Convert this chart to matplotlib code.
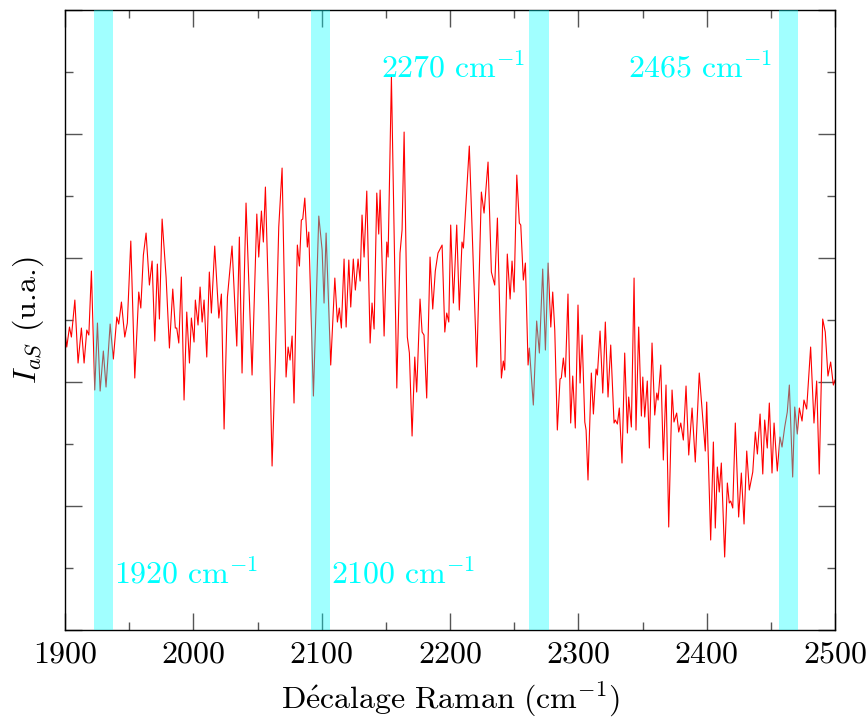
import numpy as np
import matplotlib
matplotlib.use("Agg")
import matplotlib.pyplot as plt
from matplotlib.ticker import MultipleLocator, NullFormatter

plt.rcParams["mathtext.fontset"] = "cm"
plt.rcParams["font.family"] = "serif"
plt.rcParams["font.serif"] = ["cmr10", "DejaVu Serif"]
plt.rcParams["axes.formatter.use_mathtext"] = True

# Spectre anti-Stokes
shift = [1900.0, 1901.3, 1903.4, 1904.9, 1907.6, 1910.1, 1912.7, 1914.8, 1916.9, 1918.5,
         1920.5, 1923.1, 1925.2, 1927.3, 1929.8, 1931.9, 1935.1, 1937.6, 1940.3, 1941.8,
         1943.9, 1946.5, 1948.5, 1951.2, 1954.3, 1957.4, 1959.0, 1961.0, 1963.1, 1965.7,
         1967.8, 1969.9, 1971.9, 1973.5, 1975.6, 1978.7, 1981.3, 1983.9, 1985.9, 1987.0,
         1988.6, 1990.6, 1992.7, 1994.8, 1996.9, 1998.4, 2000.5,
         2001.5, 2003.6, 2005.2, 2006.8, 2008.3, 2010.4, 2012.4, 2014.0, 2016.6, 2019.8,
         2021.8, 2023.9, 2026.5, 2030.1, 2033.8, 2035.8, 2037.9, 2041.0, 2045.7, 2049.4,
         2050.9, 2053.0, 2054.5, 2056.1, 2058.7, 2061.3, 2063.9, 2066.5, 2069.1, 2072.2,
         2073.8, 2075.3, 2076.9, 2078.4, 2081.0, 2082.6, 2084.1, 2085.2, 2086.8, 2088.8,
         2089.9, 2093.5, 2097.7, 2100.3,
         2101.8, 2103.4, 2107.0, 2110.2, 2112.2, 2113.7, 2115.3, 2117.4, 2119.0, 2121.1,
         2122.6, 2124.6, 2126.2, 2128.3, 2129.9, 2131.4, 2133.0, 2135.1, 2137.7, 2139.2,
         2140.8, 2142.9, 2144.4, 2145.5, 2148.6, 2150.7, 2151.7, 2154.3, 2158.5, 2161.0,
         2162.6, 2164.2, 2166.7, 2168.3, 2170.4, 2172.5, 2174.0, 2176.6, 2178.2, 2179.7,
         2181.8, 2184.4, 2186.5, 2188.5, 2190.6, 2193.8, 2195.9, 2197.4, 2199.0,
         2200.5, 2202.6, 2205.2, 2207.2, 2209.3, 2210.4, 2215.0, 2220.8, 2224.4, 2226.5,
         2229.6, 2232.2, 2234.8, 2236.9, 2240.0, 2241.5, 2242.6, 2244.6, 2246.8, 2248.3,
         2249.9, 2252.0, 2254.0, 2255.1, 2257.1, 2258.7, 2260.8, 2261.8, 2264.9, 2267.5,
         2269.6, 2272.2, 2274.3, 2276.4, 2278.5, 2280.0, 2281.6, 2283.6, 2285.7, 2286.7,
         2288.3, 2289.8, 2291.9, 2294.0, 2295.6, 2297.6, 2299.7,
         2301.3, 2302.9, 2305.0, 2306.0, 2307.5, 2310.1, 2311.7, 2313.8, 2314.8, 2316.9,
         2319.0, 2321.0, 2323.1, 2325.2, 2327.8, 2328.8, 2330.4, 2331.9, 2334.0, 2336.1,
         2338.2, 2339.2, 2341.3, 2343.4, 2344.9, 2347.0, 2349.1, 2350.2, 2351.7, 2353.7,
         2355.3, 2357.4, 2359.5, 2361.1, 2362.1, 2364.2, 2366.2, 2368.3, 2370.4, 2373.0,
         2374.5, 2376.6, 2378.2, 2379.8, 2381.8, 2383.9, 2386.0, 2388.6, 2391.1, 2394.2,
         2396.3, 2398.9,
         2400.0, 2403.1, 2405.2, 2406.7, 2408.3, 2409.8, 2411.4, 2414.0, 2416.1, 2417.6,
         2418.7, 2420.3, 2422.3, 2424.9, 2427.0, 2429.1, 2431.2, 2433.2, 2435.9, 2437.9,
         2439.5, 2441.6, 2443.7, 2445.2, 2447.2, 2448.8, 2450.9, 2452.5, 2455.0, 2457.1,
         2458.7, 2460.8, 2462.8, 2464.4, 2467.0, 2468.6, 2470.6, 2472.2, 2474.3, 2475.8,
         2477.9, 2481.0, 2483.6, 2485.7, 2487.7, 2490.4, 2492.4, 2494.5, 2496.6, 2498.7,
         2500.0]

intensity = [297, 283, 303, 293, 330, 267, 302, 267, 300, 295,
             359, 240, 307, 239, 279, 243, 306, 271, 313, 306,
             328, 293, 307, 389, 252, 338, 322, 375, 397, 345,
             369, 289, 366, 311, 411, 353, 282, 341, 302, 302,
             287, 353, 230, 318, 267, 312, 288,
             330, 305, 343, 308, 330, 273, 358, 317, 384, 312,
             336, 201, 333, 384, 284, 393, 257, 427, 255, 416,
             373, 419, 388, 443, 323, 164, 272, 403, 462, 253,
             283, 270, 294, 227, 385, 364, 410, 411, 432, 383,
             398, 234, 414, 380,
             327, 397, 265, 352, 308, 322, 302, 371, 303, 370,
             323, 371, 340, 371, 349, 415, 373, 439, 287, 327,
             301, 437, 396, 440, 294, 388, 373, 553, 242, 377,
             400, 498, 293, 277, 194, 273, 238, 331, 298, 295,
             232, 373, 321, 359, 377, 385, 298, 317, 308,
             405, 327, 405, 320, 388, 382, 484, 263, 438, 417,
             468, 358, 345, 412, 252, 269, 260, 376, 331, 369,
             338, 455, 407, 405, 350, 367, 265, 282, 225, 309,
             277, 361, 280, 367, 303, 338, 300, 200, 251, 252,
             272, 253, 336, 207, 254, 202, 325,
             247, 295, 208, 200, 150, 257, 216, 261, 255, 299,
             237, 308, 233, 285, 207, 210, 206, 222, 167, 277,
             197, 233, 203, 352, 200, 303, 214, 253, 213, 249,
             182, 287, 215, 237, 230, 265, 170, 245, 103, 240,
             208, 217, 198, 207, 190, 244, 175, 222, 168, 257,
             222, 179,
             228, 90, 188, 102, 163, 138, 167, 73, 147, 127,
             129, 122, 207, 113, 157, 106, 179, 140, 158, 198,
             176, 216, 156, 210, 182, 227, 157, 207, 159, 193,
             183, 203, 218, 245, 153, 223, 196, 222, 209, 230,
             221, 283, 207, 249, 156, 311, 298, 254, 268, 245,
             250]

bands = [(1922.6, 1937.4), (2091.7, 2106.5), (2261.6, 2277.2), (2456.5, 2471.3)]
band_labels = ["1920", "2100", "2270", "2465"]

fig = plt.figure(figsize=(8.68, 7.2), dpi=100)
ax = fig.add_axes([0.075, 0.125, 0.887, 0.861])

ax.plot(shift, intensity, color="red", lw=0.8, zorder=2)

for (x0, x1) in bands:
    ax.axvspan(x0, x1, color="cyan", alpha=0.37, lw=0, zorder=3)

fs = 23
cyan = "#00ffff"
ax.text(bands[0][1] + 1.0, 57, r"$\mathrm{%s\ cm^{-1}}$" % band_labels[0],
        color=cyan, fontsize=fs, ha="left", va="center", zorder=4)
ax.text(bands[1][1] + 1.0, 57, r"$\mathrm{%s\ cm^{-1}}$" % band_labels[1],
        color=cyan, fontsize=fs, ha="left", va="center", zorder=4)
ax.text(bands[2][0] - 3, 563, r"$\mathrm{%s\ cm^{-1}}$" % band_labels[2],
        color=cyan, fontsize=fs, ha="right", va="center", zorder=4)
ax.text(bands[3][0] - 5, 563, r"$\mathrm{%s\ cm^{-1}}$" % band_labels[3],
        color=cyan, fontsize=fs, ha="right", va="center", zorder=4)

ax.set_xlim(1900, 2500)
ax.set_ylim(0, 620)
ax.xaxis.set_major_locator(MultipleLocator(100))
ax.xaxis.set_minor_locator(MultipleLocator(50))
ax.yaxis.set_major_locator(MultipleLocator(124))
ax.yaxis.set_minor_locator(MultipleLocator(62))
ax.yaxis.set_major_formatter(NullFormatter())
ax.tick_params(which="both", direction="in", top=True, right=True,
               color="#555555", labelsize=fs)
ax.tick_params(which="major", length=12, width=1)
ax.tick_params(which="minor", length=6, width=1)
ax.tick_params(axis="x", pad=8)
for s in ax.spines.values():
    s.set_linewidth(1.0)

ax.set_xlabel(r"$\mathrm{D\acute{e}calage\ Raman\ (cm^{-1})}$", fontsize=fs, labelpad=8)
ax.set_ylabel(r"$I_{aS}$ (u.a.)", fontsize=fs, labelpad=10)

fig.savefig("out.png", dpi=100)
